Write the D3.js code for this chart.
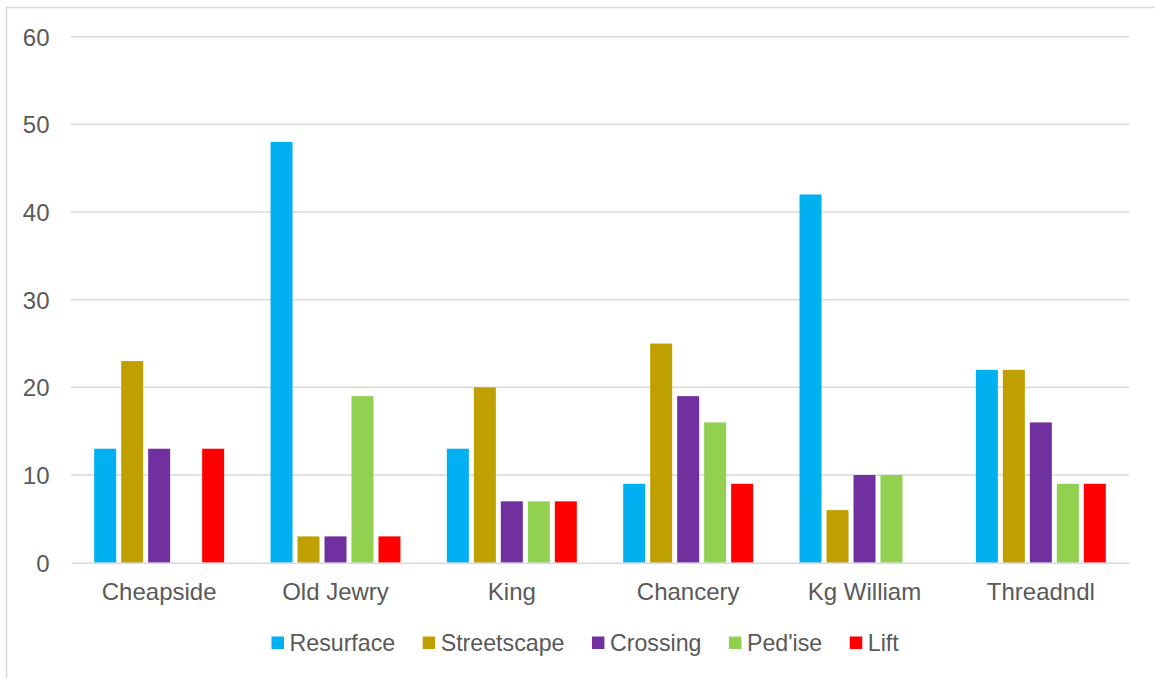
<!DOCTYPE html>
<html>
<head>
<meta charset="utf-8">
<script src="https://cdn.jsdelivr.net/npm/d3@7/dist/d3.min.js"></script>
<style>
  html, body { margin: 0; padding: 0; background: #fff; }
  svg { display: block; font-family: "Liberation Sans", Arial, sans-serif; }
</style>
</head>
<body>
<svg id="chart" width="1155" height="678"></svg>
<script>
const categories = ["Cheapside", "Old Jewry", "King", "Chancery", "Kg William", "Threadndl"];
const seriesNames = ["Resurface", "Streetscape", "Crossing", "Ped'ise", "Lift"];
const resurface   = [13, 48, 13, 9, 42, 22];
const streetscape = [23, 3, 20, 25, 6, 22];
const crossing    = [13, 3, 7, 19, 10, 16];
const pedise      = [0, 19, 7, 16, 10, 9];
const lift        = [13, 3, 7, 9, 0, 9];
const yTicks = [0, 10, 20, 30, 40, 50, 60];
const colors = ["#00B0F0", "#BFA000", "#7030A0", "#92D050", "#FF0000"];

const seriesValues = [resurface, streetscape, crossing, pedise, lift];

const svg = d3.select("#chart");
const textColor = "#595959";
const gridColor = "#D9D9D9";

// chart border (only top & left visible in frame)
svg.append("rect")
  .attr("x", 6.5).attr("y", 7.5)
  .attr("width", 1160).attr("height", 700)
  .attr("fill", "none").attr("stroke", gridColor).attr("stroke-width", 1.5);

const plot = { left: 71, right: 1129, top: 36.7, bottom: 562.7 };

const y = d3.scaleLinear().domain([0, 60]).range([plot.bottom, plot.top]);
const x0 = d3.scaleBand().domain(categories).range([plot.left, plot.right])
  .paddingInner(0.263).paddingOuter(0.1315);
const x1 = d3.scaleBand().domain(seriesNames).range([0, x0.bandwidth()]).paddingInner(0.185);

// gridlines
svg.append("g").selectAll("line").data(yTicks.filter(d => d !== 0)).join("line")
  .attr("x1", plot.left).attr("x2", plot.right)
  .attr("y1", d => y(d)).attr("y2", d => y(d))
  .attr("stroke", gridColor).attr("stroke-width", 1.5);

// y axis labels
const yAxis = d3.axisLeft(y).tickValues(yTicks).tickSize(0).tickPadding(0).tickFormat(d3.format("d"));
const gy = svg.append("g").attr("transform", `translate(49.5,0)`).call(yAxis);
gy.select(".domain").remove();
gy.selectAll("text").attr("fill", textColor).style("font-size", "24px")
  .style("font-family", '"Liberation Sans", Arial, sans-serif').attr("dy", "0.35em");

// bars
const groups = svg.append("g").selectAll("g").data(categories).join("g")
  .attr("transform", d => `translate(${x0(d)},0)`);
groups.selectAll("rect")
  .data((c, i) => seriesNames.map((s, j) => ({ s, j, v: seriesValues[j][i] })))
  .join("rect")
  .filter(d => d.v > 0)
  .attr("x", d => x1(d.s))
  .attr("width", x1.bandwidth())
  .attr("y", d => y(d.v))
  .attr("height", d => y(0) - y(d.v))
  .attr("fill", d => colors[d.j]);

// x axis
const xAxisScale = d3.scaleBand().domain(categories).range([plot.left, plot.right]);
const xAxis = d3.axisBottom(xAxisScale).tickSize(0).tickPadding(0);
const gx = svg.append("g").attr("transform", `translate(0,${plot.bottom})`).call(xAxis);
gx.select(".domain").attr("stroke", gridColor).attr("stroke-width", 1.5);
gx.selectAll("text").attr("fill", textColor).style("font-size", "24px")
  .style("font-family", '"Liberation Sans", Arial, sans-serif')
  .attr("y", 37.3).attr("dy", 0);

// legend
const legend = svg.append("g");
let lx = 271.5;
seriesNames.forEach((name, j) => {
  legend.append("rect").attr("x", lx).attr("y", 636.5).attr("width", 12.5).attr("height", 12.5)
    .attr("fill", colors[j]);
  const t = legend.append("text").attr("x", lx + 18).attr("y", 651)
    .attr("fill", textColor).style("font-size", "23.2px").text(name);
  const w = t.node().getComputedTextLength();
  lx = lx + 18 + w + 27.5;
});
</script>
</body>
</html>
